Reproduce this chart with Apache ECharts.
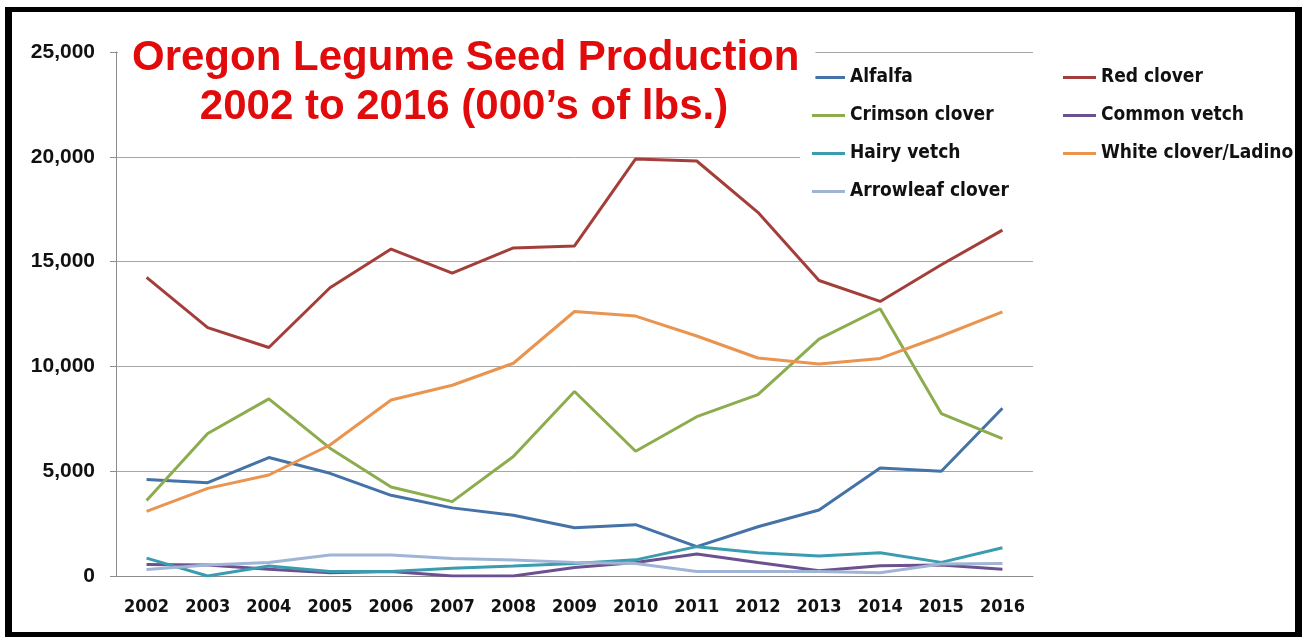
<!DOCTYPE html>
<html>
<head>
<meta charset="utf-8">
<script src="https://cdn.jsdelivr.net/npm/echarts@6/dist/echarts.min.js"></script>
<style>
    html, body { margin: 0; padding: 0; background: #fff; }
    #chart { position: absolute; left: 0; top: 0; width: 1302px; height: 637px; }
    #frame {
        position: absolute; left: 5px; top: 7px; right: 0; bottom: 0;
        box-sizing: border-box; border-style: solid; border-color: #000;
        border-width: 5px 7px 5px 7px; pointer-events: none;
    }
</style>
</head>
<body>
<div id="chart"></div>
<div id="frame"></div>
<script>
// values, in 000's of lbs
const years = ['2002', '2003', '2004', '2005', '2006', '2007', '2008', '2009', '2010', '2011', '2012', '2013', '2014', '2015', '2016']
const alfalfa = [4600, 4450, 5650, 4900, 3850, 3250, 2900, 2300, 2450, 1400, 2350, 3150, 5150, 5000, 8000]
const redClover = [14250, 11850, 10900, 13750, 15600, 14450, 15650, 15750, 19900, 19800, 17350, 14100, 13100, 14850, 16500]
const crimsonClover = [3600, 6800, 8450, 6100, 4250, 3550, 5700, 8800, 5950, 7600, 8650, 11300, 12750, 7750, 6550]
const commonVetch = [550, 520, 320, 160, 210, 0, 0, 410, 640, 1050, 640, 250, 490, 520, 320]
const hairyVetch = [850, 0, 480, 210, 210, 370, 480, 600, 770, 1400, 1110, 950, 1110, 650, 1350]
const whiteClover = [3080, 4180, 4820, 6250, 8400, 9100, 10150, 12620, 12400, 11450, 10400, 10120, 10380, 11450, 12600]
const arrowleafClover = [310, 520, 640, 1000, 1000, 840, 760, 650, 600, 210, 210, 210, 160, 570, 600]
const yTicks = [0, 5000, 10000, 15000, 20000, 25000]

// no narrow font installed, condensed DejaVu is the closest
const narrow = "'Liberation Sans Narrow', 'Arial Narrow', 'DejaVu Sans Condensed', sans-serif"
const plain = "'Liberation Sans', Arial, sans-serif"

const seriesList = [
    { name: 'Alfalfa', data: alfalfa, color: '#4572a7' },
    { name: 'Red clover', data: redClover, color: '#a43e3b' },
    { name: 'Crimson clover', data: crimsonClover, color: '#8cac4e' },
    { name: 'Common vetch', data: commonVetch, color: '#6c5190' },
    { name: 'Hairy vetch', data: hairyVetch, color: '#3b9cb0' },
    { name: 'White clover/Ladino', data: whiteClover, color: '#e9944f' },
    { name: 'Arrowleaf clover', data: arrowleafClover, color: '#a0b4d6' }
]

const titleText = {
    fontFamily: plain,
    fontWeight: 'bold',
    fontSize: 42,
    color: '#e10b0b'
}

const legendBase = {
    orient: 'vertical',
    icon: 'rect',
    itemWidth: 33,
    itemHeight: 3,
    itemGap: 19,
    textStyle: {
        fontFamily: narrow,
        fontWeight: 'bold',
        fontSize: 19,
        color: '#111'
    }
}

const chart = echarts.init(document.getElementById('chart'))
chart.setOption({
    animation: false,
    backgroundColor: '#fff',
    title: [
        {
            // white box hides the top gridline behind the first line
            text: 'Oregon Legume Seed Production',
            left: 118,
            top: 33,
            backgroundColor: '#fff',
            padding: [4, 16, 4, 14],
            textStyle: titleText
        },
        {
            text: '2002 to 2016 (000\u2019s of lbs.)',
            left: 464,
            top: 86,
            textAlign: 'center',
            padding: 0,
            textStyle: titleText
        }
    ],
    legend: [
        Object.assign({}, legendBase, {
            data: ['Alfalfa', 'Crimson clover', 'Hairy vetch', 'Arrowleaf clover'],
            left: 800,
            top: 62,
            padding: [6, 40, 6, 12],
            backgroundColor: '#fff'
        }),
        Object.assign({}, legendBase, {
            data: ['Red clover', 'Common vetch', 'White clover/Ladino'],
            left: 1063,
            top: 68,
            padding: 0
        })
    ],
    grid: {
        left: 116,
        right: 269,
        top: 52,
        bottom: 61
    },
    xAxis: {
        type: 'category',
        data: years,
        boundaryGap: true,
        axisLine: { lineStyle: { color: '#8c8c8c', width: 1 } },
        axisTick: { length: 6, interval: 0, lineStyle: { color: '#8c8c8c' } },
        axisLabel: {
            interval: 0,
            margin: 22,
            fontFamily: narrow,
            fontWeight: 'bold',
            fontSize: 18,
            color: '#111'
        }
    },
    yAxis: {
        type: 'value',
        min: yTicks[0],
        max: yTicks[yTicks.length - 1],
        interval: yTicks[1] - yTicks[0],
        axisLine: { show: true, lineStyle: { color: '#8c8c8c', width: 1 } },
        axisTick: { show: true, length: 6, lineStyle: { color: '#8c8c8c' } },
        splitLine: { lineStyle: { color: '#a6a6a6', width: 1 } },
        axisLabel: {
            margin: 21,
            fontFamily: plain,
            fontWeight: 'bold',
            fontSize: 21,
            color: '#111',
            formatter: v => v.toLocaleString('en-US')
        }
    },
    series: seriesList.map(s => ({
        name: s.name,
        type: 'line',
        data: s.data,
        symbol: 'none',
        color: s.color,
        lineStyle: { width: 3, color: s.color }
    }))
})
</script>
</body>
</html>
